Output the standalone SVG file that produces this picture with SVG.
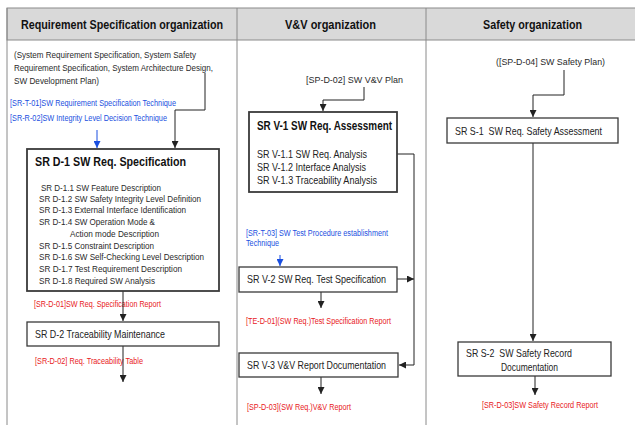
<svg xmlns="http://www.w3.org/2000/svg" width="635" height="425" viewBox="0 0 635 425">
<style>
text{font-family:"Liberation Sans",Arial,sans-serif;}
.pre{white-space:pre;}
.hdr{font-size:12px;font-weight:bold;fill:#111;}
.doc{font-size:9px;fill:#2a2a2a;}
.blue{font-size:8.5px;fill:#1a4fe0;}
.red{font-size:8.5px;fill:#e8201c;}
.ttl{font-size:12px;font-weight:bold;fill:#111;}
.itm{font-size:9.5px;fill:#2a2a2a;}
.lbl{font-size:10.5px;fill:#222;}
.box{fill:#fff;stroke:#3a3a3a;stroke-width:1.3;}
.bigbox{fill:#fff;stroke:#3a3a3a;stroke-width:1.8;}
.ln{fill:none;stroke:#222;stroke-width:1;}
.lnb{fill:none;stroke:#1a4fe0;stroke-width:1;}
</style>
<defs>
<marker id="ah" viewBox="0 0 8 8" refX="8" refY="4" markerWidth="7" markerHeight="7" orient="auto" markerUnits="userSpaceOnUse"><path d="M0,0 L8,4 L0,8 z" fill="#222"/></marker>
<marker id="ahb" viewBox="0 0 8 8" refX="8" refY="4" markerWidth="7" markerHeight="7" orient="auto" markerUnits="userSpaceOnUse"><path d="M0,0 L8,4 L0,8 z" fill="#1a4fe0"/></marker>
</defs>
<rect width="635" height="425" fill="#fff"/>
<g id="lanes">
<rect x="7" y="8" width="630" height="32" fill="#d9d9d9" stroke="#8a8a8a" stroke-width="1"/>
<line x1="7" y1="8" x2="7" y2="425" stroke="#8a8a8a"/>
<line x1="237" y1="8" x2="237" y2="425" stroke="#8a8a8a"/>
<line x1="426" y1="8" x2="426" y2="425" stroke="#8a8a8a"/>
<text class="hdr" x="21" y="29" textLength="202" lengthAdjust="spacingAndGlyphs">Requirement Specification organization</text>
<text class="hdr" x="285" y="29" textLength="91" lengthAdjust="spacingAndGlyphs">V&amp;V organization</text>
<text class="hdr" x="483" y="29" textLength="99" lengthAdjust="spacingAndGlyphs">Safety organization</text>
</g>
<g id="inputs">
<text class="doc" x="14" y="58" textLength="182" lengthAdjust="spacingAndGlyphs">(System Requirement Specification, System Safety</text>
<text class="doc" x="14" y="71" textLength="199" lengthAdjust="spacingAndGlyphs">Requirement Specification, System Architecture Design,</text>
<text class="doc" x="14" y="84" textLength="85" lengthAdjust="spacingAndGlyphs">SW Development Plan)</text>
<text class="blue" x="10" y="106" textLength="166" lengthAdjust="spacingAndGlyphs">[SR-T-01]SW Requirement Specification Technique</text>
<text class="blue" x="10" y="121" textLength="157" lengthAdjust="spacingAndGlyphs">[SR-R-02]SW Integrity Level Decision Technique</text>
<text class="doc" x="306" y="83" textLength="97" lengthAdjust="spacingAndGlyphs">[SP-D-02] SW V&amp;V Plan</text>
<text class="blue" x="246" y="236" textLength="142" lengthAdjust="spacingAndGlyphs">[SR-T-03] SW Test Procedure establishment</text>
<text class="blue" x="246" y="246" textLength="33" lengthAdjust="spacingAndGlyphs">Technique</text>
<text class="doc" x="496" y="65" textLength="109" lengthAdjust="spacingAndGlyphs">([SP-D-04] SW Safety Plan)</text>
</g>
<g id="outputs">
<text class="red" x="34" y="307" textLength="127" lengthAdjust="spacingAndGlyphs">[SR-D-01]SW Req. Specification Report</text>
<text class="red" x="35" y="364" textLength="108" lengthAdjust="spacingAndGlyphs">[SR-D-02] Req. Traceability Table</text>
<text class="red" x="246" y="324" textLength="145" lengthAdjust="spacingAndGlyphs">[TE-D-01](SW Req.)Test Specification Report</text>
<text class="red" x="247" y="410" textLength="104" lengthAdjust="spacingAndGlyphs">[SP-D-03](SW Req.)V&amp;V Report</text>
<text class="red" x="482" y="408" textLength="116" lengthAdjust="spacingAndGlyphs">[SR-D-03]SW Safety Record Report</text>
</g>
<g id="connectors">
<path class="ln" d="M205,73 V110 H175 V148" marker-end="url(#ah)"/>
<path class="lnb" d="M97,130 V148" marker-end="url(#ahb)"/>
<path class="ln" d="M123,291 V321" marker-end="url(#ah)"/>
<path class="ln" d="M123,346 V382" marker-end="url(#ah)"/>
<path class="ln" d="M364,87 V100 H323 V111" marker-end="url(#ah)"/>
<path class="ln" d="M397,154 H414 V365 H399" marker-end="url(#ah)"/>
<path class="ln" d="M397,279 H414" marker-end="url(#ah)"/>
<path class="lnb" d="M280,255 V266" marker-end="url(#ahb)"/>
<path class="ln" d="M321,292 V308" marker-end="url(#ah)"/>
<path class="ln" d="M321,377 V394" marker-end="url(#ah)"/>
<path class="ln" d="M564,70 V95 H533 V117" marker-end="url(#ah)"/>
<path class="ln" d="M533,143 V341" marker-end="url(#ah)"/>
<path class="ln" d="M535,376 V395" marker-end="url(#ah)"/>
</g>
<g id="SRD1">
<rect class="bigbox" x="27" y="149" width="192" height="142"/>
<text class="ttl" x="35" y="166" textLength="151" lengthAdjust="spacingAndGlyphs">SR D-1 SW Req. Specification</text>
<text class="itm" x="41" y="191" textLength="120" lengthAdjust="spacingAndGlyphs">SR D-1.1 SW Feature Description</text>
<text class="itm" x="39" y="202" textLength="162" lengthAdjust="spacingAndGlyphs">SR D-1.2 SW Safety Integrity Level Definition</text>
<text class="itm" x="39" y="213" textLength="147" lengthAdjust="spacingAndGlyphs">SR D-1.3 External Interface Identification</text>
<text class="itm" x="39" y="225" textLength="116" lengthAdjust="spacingAndGlyphs">SR D-1.4 SW Operation Mode &amp;</text>
<text class="itm" x="70" y="237" textLength="89" lengthAdjust="spacingAndGlyphs">Action mode Description</text>
<text class="itm" x="39" y="249" textLength="115" lengthAdjust="spacingAndGlyphs">SR D-1.5 Constraint Description</text>
<text class="itm" x="39" y="260" textLength="165" lengthAdjust="spacingAndGlyphs">SR D-1.6 SW Self-Checking Level Description</text>
<text class="itm" x="39" y="272" textLength="143" lengthAdjust="spacingAndGlyphs">SR D-1.7 Test Requirement Description</text>
<text class="itm" x="39" y="284" textLength="116" lengthAdjust="spacingAndGlyphs">SR D-1.8 Required SW Analysis</text>
</g>
<g id="SRD2">
<rect class="box" x="27" y="322" width="192" height="24"/>
<text class="lbl" x="35" y="338" textLength="130" lengthAdjust="spacingAndGlyphs">SR D-2 Traceability Maintenance</text>
</g>
<g id="SRV1">
<rect class="bigbox" x="249" y="112" width="148" height="80"/>
<text class="ttl" x="257" y="130" textLength="135" lengthAdjust="spacingAndGlyphs">SR V-1 SW Req. Assessment</text>
<text class="lbl" x="257" y="158" textLength="110" lengthAdjust="spacingAndGlyphs">SR V-1.1 SW Req. Analysis</text>
<text class="lbl" x="257" y="171" textLength="109" lengthAdjust="spacingAndGlyphs">SR V-1.2 Interface Analysis</text>
<text class="lbl" x="257" y="184" textLength="120" lengthAdjust="spacingAndGlyphs">SR V-1.3 Traceability Analysis</text>
</g>
<g id="SRV2">
<rect class="box" x="239" y="267" width="158" height="25"/>
<text class="lbl" x="247" y="283" textLength="139" lengthAdjust="spacingAndGlyphs">SR V-2 SW Req. Test Specification</text>
</g>
<g id="SRV3">
<rect class="box" x="239" y="353" width="159" height="24"/>
<text class="lbl" x="247" y="369" textLength="139" lengthAdjust="spacingAndGlyphs">SR V-3 V&amp;V Report Documentation</text>
</g>
<g id="SRS1">
<rect class="box" x="447" y="118" width="171" height="25"/>
<text class="lbl pre" x="455" y="135" textLength="147" lengthAdjust="spacingAndGlyphs" xml:space="preserve">SR S-1  SW Req. Safety Assessment</text>
</g>
<g id="SRS2">
<rect class="box" x="458" y="342" width="153" height="34"/>
<text class="lbl pre" x="466" y="357" textLength="106" lengthAdjust="spacingAndGlyphs" xml:space="preserve">SR S-2  SW Safety Record</text>
<text class="lbl" x="501" y="371" textLength="57" lengthAdjust="spacingAndGlyphs">Documentation</text>
</g>
</svg>
